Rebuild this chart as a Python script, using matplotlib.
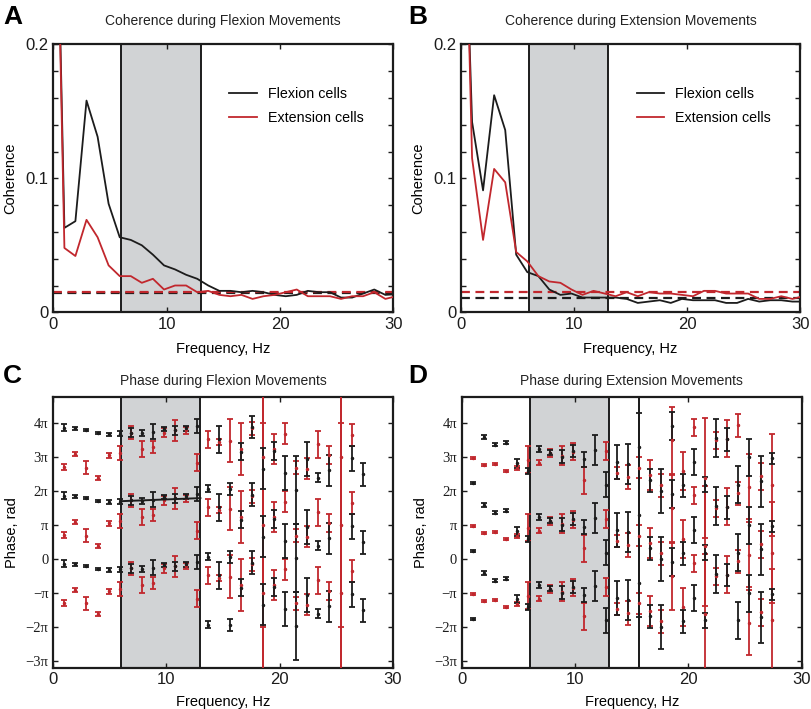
import numpy as np
import matplotlib.pyplot as plt

plt.rcParams["font.family"] = ["Liberation Sans", "DejaVu Sans"]

# frequency bins (Hz), bin 0 .. 31
freq = [0.0, 0.98, 1.95, 2.93, 3.91, 4.88, 5.86, 6.84, 7.81, 8.79, 9.77,
        10.74, 11.72, 12.70, 13.67, 14.65, 15.63, 16.60, 17.58, 18.55, 19.53,
        20.51, 21.48, 22.46, 23.44, 24.41, 25.39, 26.37, 27.34, 28.32, 29.30, 30.27]

# coherence during flexion movements
cohA_flex = [0.45, 0.063, 0.068, 0.158, 0.131, 0.081, 0.056, 0.054, 0.050, 0.043, 0.035,
             0.032, 0.028, 0.025, 0.020, 0.016, 0.016, 0.015, 0.016, 0.015, 0.013,
             0.012, 0.013, 0.016, 0.015, 0.015, 0.011, 0.011, 0.014, 0.017, 0.013, 0.0135]
cohA_ext = [0.45, 0.048, 0.042, 0.069, 0.056, 0.035, 0.027, 0.027, 0.022, 0.025, 0.017,
            0.020, 0.020, 0.015, 0.016, 0.013, 0.012, 0.013, 0.010, 0.012, 0.013,
            0.015, 0.017, 0.012, 0.012, 0.012, 0.010, 0.012, 0.012, 0.015, 0.010, 0.012]
# coherence during extension movements
cohB_flex = [0.40, 0.142, 0.091, 0.162, 0.136, 0.043, 0.030, 0.027, 0.017, 0.013, 0.014,
             0.011, 0.011, 0.011, 0.011, 0.010, 0.007, 0.008, 0.009, 0.007, 0.010,
             0.009, 0.009, 0.009, 0.007, 0.007, 0.010, 0.008, 0.009, 0.009, 0.008, 0.008]
cohB_ext = [0.45, 0.115, 0.054, 0.107, 0.097, 0.045, 0.038, 0.027, 0.023, 0.022, 0.017,
            0.013, 0.016, 0.014, 0.012, 0.015, 0.012, 0.015, 0.014, 0.014, 0.013,
            0.012, 0.016, 0.016, 0.014, 0.014, 0.014, 0.010, 0.010, 0.012, 0.010, 0.012]
# significance levels
sigA = [0.0145, 0.015]
sigB = [0.011, 0.0155]

band = [6, 13]

# phase (units of pi) and error for bins 1..28
pfreq = freq[1:29]
nan = np.nan
phC_flex = [-0.13, -0.15, -0.21, -0.29, -0.32, -0.30, -0.27, -0.29, -0.25, -0.18,
            -0.21, -0.15, -0.08, -1.92, -0.47, -1.93, -0.84, -0.10, -1.33, -0.81,
            -1.47, -1.96, -1.04, -1.60, -1.38, nan, -1.03, -1.50]
erC_flex = [0.10, 0.05, 0.03, 0.03, 0.05, 0.08, 0.12, 0.08, 0.22, 0.06,
            0.14, 0.07, 0.20, 0.10, 0.40, 0.17, 0.25, 0.33, 0.59, 0.27,
            0.50, 1.00, 0.50, 0.13, 0.45, nan, 0.37, 0.33]
phC_ext = [-1.29, -0.91, -1.30, -1.62, -0.94, -0.87, -0.27, -0.76, -0.69, -0.27,
           -0.21, -0.20, -1.16, -0.47, -0.55, -0.51, -0.75, -0.15, -1.00, -0.75,
           -0.30, -1.30, -1.33, -0.62, -0.94, -1.00, -0.35, nan]
erC_ext = [0.08, 0.06, 0.18, 0.06, 0.08, 0.20, 0.20, 0.23, 0.18, 0.13,
           0.32, 0.10, 0.25, 0.25, 0.08, 0.63, 0.77, 0.20, 5.00, 0.44,
           0.30, 0.20, 0.30, 0.40, 0.27, 5.00, 0.32, nan]
trendC_x = [6, 13]
trendC_y = [1.71, 1.80]

phD_flex = [-1.76, -0.40, -0.63, -0.57, -1.18, -1.40, -0.75, -0.86, -0.98, -0.81,
            -1.06, -0.79, -1.80, -1.14, -1.19, -0.70, -1.68, -2.00, -0.08, -1.82,
            -1.13, -1.80, -0.43, -0.47, -1.80, -1.00, -1.70, -1.03]
erD_flex = [0.03, 0.05, 0.04, 0.05, 0.12, 0.08, 0.08, 0.08, 0.19, 0.18,
            0.21, 0.44, 0.37, 0.49, 0.59, 5.00, 0.34, 0.65, 0.42, 0.34,
            0.38, 0.22, 0.55, 0.33, 0.55, 0.55, 0.75, 0.17]
phD_ext = [-1.02, -1.23, -1.21, -1.40, -1.32, -1.07, -1.16, -0.88, -0.96, -0.84,
           -1.68, nan, -0.81, -1.46, -1.58, -1.30, -1.53, -1.82, -0.50, -1.40,
           -0.11, -1.60, -0.50, -0.45, -0.06, -1.86, -1.56, -1.80]
erD_ext = [0.03, 0.03, 0.03, 0.03, 0.06, 0.40, 0.08, 0.12, 0.28, 0.25,
           0.40, nan, 0.27, 0.17, 0.34, 0.32, 0.44, 0.34, 0.99, 0.55,
           0.25, 1.76, 0.25, 0.55, 0.34, 0.96, 0.40, 1.50]

BLACK = "#1c1c1c"
RED = "#c1272d"
SHADE = "#d1d3d5"

fig = plt.figure(figsize=(8.12, 7.09), dpi=100)
W, H = 812, 709


def box(l, t, r, b):
    return [l / W, 1 - b / H, (r - l) / W, (b - t) / H]


axA = fig.add_axes(box(53.3, 44.3, 393.3, 312.3))
axB = fig.add_axes(box(461, 44.3, 800.3, 312.3))
axC = fig.add_axes(box(53.3, 397, 392.7, 667.5))
axD = fig.add_axes(box(462, 397, 801.7, 667.5))


def frame(ax):
    ax.axvspan(band[0], band[1], color=SHADE, zorder=0, lw=0)
    for b in band:
        ax.axvline(b, color=BLACK, lw=1.4, zorder=1)
    for s in ax.spines.values():
        s.set_linewidth(1.6)
        s.set_color(BLACK)
    ax.tick_params(which="both", direction="in", top=True, right=True,
                   length=3.5, width=1.0, colors=BLACK)
    ax.set_xlim(0, 30)
    ax.set_xticks([0, 10, 20, 30])


def coherence(ax, flex, ext, sig, title):
    frame(ax)
    ax.plot(freq, flex, color=BLACK, lw=1.3, label="Flexion cells", zorder=3)
    ax.plot(freq, ext, color=RED, lw=1.3, label="Extension cells", zorder=3)
    ax.axhline(sig[0], color=BLACK, lw=1.6, ls=(0, (4, 2.5)), zorder=2)
    ax.axhline(sig[1], color=RED, lw=1.6, ls=(0, (4, 2.5)), zorder=2)
    ax.set_ylim(0, 0.2)
    ax.set_yticks([0, 0.1, 0.2])
    ax.set_yticklabels(["0", "0.1", "0.2"])
    ax.set_yticks(np.arange(0, 0.2001, 0.02), minor=True)
    ax.tick_params(labelsize=12)
    ax.set_title(title, fontsize=10, pad=14, color="#222222")
    ax.set_ylabel("Coherence", fontsize=10.5)
    ax.set_xlabel("Frequency, Hz", fontsize=10.5)
    ax.yaxis.set_label_coords(-0.105, 0.5)
    ax.xaxis.set_label_coords(0.5, -0.11)
    ax.legend(loc="upper left", bbox_to_anchor=(0.48, 0.89), frameon=False,
              fontsize=10.3, handlelength=1.9, handletextpad=0.8, labelspacing=0.75)


def phase(ax, ph_flex, er_flex, ph_ext, er_ext, title):
    frame(ax)
    for ph, er, col in ((ph_ext, er_ext, RED), (ph_flex, er_flex, BLACK)):
        c = np.array(ph) * np.pi
        e = np.array(er) * np.pi
        for k in (0, 2, 4):
            ax.errorbar(pfreq, c + k * np.pi, yerr=e, fmt=".", color=col, ms=3,
                        elinewidth=1.3, capsize=2.2, capthick=1.3, zorder=3)
    ax.set_ylim(-10, 15)
    ks = np.arange(-3, 5)
    ax.set_yticks(ks * np.pi)
    names = {-3: "\u22123\u03c0", -2: "\u22122\u03c0", -1: "\u2212\u03c0", 0: "0",
             1: "\u03c0", 2: "2\u03c0", 3: "3\u03c0", 4: "4\u03c0"}
    ax.set_yticklabels([names[k] for k in ks], family="Liberation Serif", fontsize=10.5)
    ax.tick_params(axis="x", labelsize=12)
    ax.set_title(title, fontsize=10, pad=9, color="#222222")
    ax.set_ylabel("Phase, rad", fontsize=10.5)
    ax.set_xlabel("Frequency, Hz", fontsize=10.5)
    ax.yaxis.set_label_coords(-0.1, 0.5)
    ax.xaxis.set_label_coords(0.5, -0.1)


coherence(axA, cohA_flex, cohA_ext, sigA, "Coherence during Flexion Movements")
coherence(axB, cohB_flex, cohB_ext, sigB, "Coherence during Extension Movements")
phase(axC, phC_flex, erC_flex, phC_ext, erC_ext, "Phase during Flexion Movements")
axC.plot(trendC_x, np.array(trendC_y) * np.pi, color=BLACK, lw=1.4, zorder=4)
phase(axD, phD_flex, erD_flex, phD_ext, erD_ext, "Phase during Extension Movements")

for lab, x, y in (("A", 3, 17), ("B", 408, 17), ("C", 3, 376), ("D", 408, 376)):
    fig.text(x / W, 1 - y / H, lab, fontsize=19, fontweight="bold", va="center", ha="left")

fig.savefig("out.png", dpi=100)
